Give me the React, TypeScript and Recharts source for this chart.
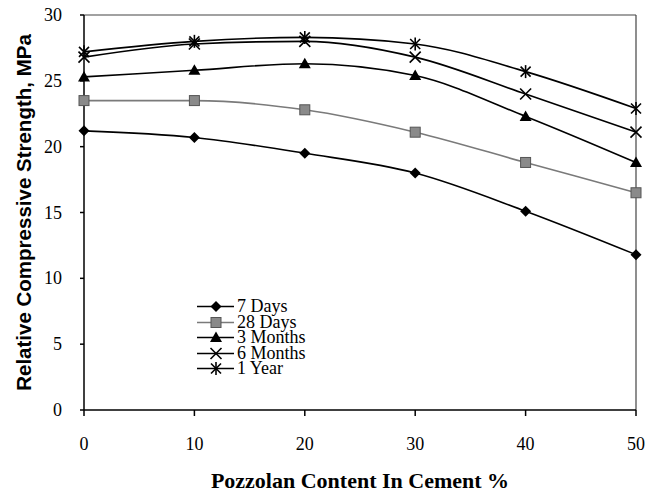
import React from 'react';
import { LineChart, Line, XAxis, YAxis, ReferenceLine, Label } from 'recharts';

const pozzolan = [0, 10, 20, 30, 40, 50];
const days7 = [21.2, 20.7, 19.5, 18.0, 15.1, 11.8];
const days28 = [23.5, 23.5, 22.8, 21.1, 18.8, 16.5];
const months3 = [25.3, 25.8, 26.3, 25.4, 22.3, 18.8];
const months6 = [26.8, 27.8, 28.0, 26.8, 24.0, 21.1];
const year1 = [27.2, 28.0, 28.3, 27.8, 25.7, 22.9];

const xTicks = [0, 10, 20, 30, 40, 50];
const yTicks = [0, 5, 10, 15, 20, 25, 30];

type Shape = 'diamond' | 'square' | 'triangle' | 'cross' | 'star';

const series: { key: string; name: string; values: number[]; color: string; shape: Shape }[] = [
  { key: 'd7', name: '7 Days', values: days7, color: '#000', shape: 'diamond' },
  { key: 'd28', name: '28 Days', values: days28, color: '#7a7a7a', shape: 'square' },
  { key: 'm3', name: '3 Months', values: months3, color: '#000', shape: 'triangle' },
  { key: 'm6', name: '6 Months', values: months6, color: '#000', shape: 'cross' },
  { key: 'y1', name: '1 Year', values: year1, color: '#000', shape: 'star' },
];

const data = pozzolan.map((p, i) => {
  const row: Record<string, number> = { p };
  series.forEach((s) => (row[s.key] = s.values[i]));
  return row;
});

const serif = '"Liberation Serif", "Times New Roman", serif';
const sans = '"Liberation Sans", Arial, sans-serif';

function Marker({ cx, cy, shape }: { cx: number; cy: number; shape: Shape }) {
  switch (shape) {
    case 'diamond':
      return <polygon points={`${cx},${cy - 5.5} ${cx + 5.5},${cy} ${cx},${cy + 5.5} ${cx - 5.5},${cy}`} fill="#000" />;
    case 'square':
      return <rect x={cx - 5} y={cy - 5} width={10} height={10} fill="#8a8a8a" stroke="#555" strokeWidth={1} />;
    case 'triangle':
      return <polygon points={`${cx},${cy - 6} ${cx + 6},${cy + 4.5} ${cx - 6},${cy + 4.5}`} fill="#000" />;
    case 'cross':
      return (
        <g stroke="#000" strokeWidth={1.6}>
          <line x1={cx - 5.5} y1={cy - 5.5} x2={cx + 5.5} y2={cy + 5.5} />
          <line x1={cx - 5.5} y1={cy + 5.5} x2={cx + 5.5} y2={cy - 5.5} />
        </g>
      );
    default:
      return (
        <g stroke="#000" strokeWidth={1.6}>
          <line x1={cx - 5} y1={cy - 5} x2={cx + 5} y2={cy + 5} />
          <line x1={cx - 5} y1={cy + 5} x2={cx + 5} y2={cy - 5} />
          <line x1={cx} y1={cy - 6.5} x2={cx} y2={cy + 6.5} />
        </g>
      );
  }
}

function XTick(props: any) {
  const { x, y, payload } = props;
  return (
    <text x={x} y={y + 26} textAnchor="middle" dominantBaseline="central" fill="#000" style={{ fontFamily: serif, fontSize: 18 }}>
      {payload.value}
    </text>
  );
}

function YTick(props: any) {
  const { x, y, payload } = props;
  return (
    <text x={x - 16} y={y} textAnchor="end" dominantBaseline="central" fill="#000" style={{ fontFamily: serif, fontSize: 18 }}>
      {payload.value}
    </text>
  );
}

function ChartLegend() {
  return (
    <div style={{ position: 'absolute', left: 196, top: 299, fontFamily: serif, fontSize: 18, lineHeight: '15.5px' }}>
      {series.map((s) => (
        <div key={s.key} style={{ display: 'flex', alignItems: 'center', height: 15.5 }}>
          <svg width={40} height={15}>
            <line x1={1} y1={7.5} x2={38} y2={7.5} stroke={s.color} strokeWidth={1.6} />
            <Marker cx={20} cy={7.5} shape={s.shape} />
          </svg>
          <span style={{ marginLeft: 1 }}>{s.name}</span>
        </div>
      ))}
    </div>
  );
}

export default function App() {
  return (
    <div style={{ position: 'absolute', left: 0, top: 0, width: 649, height: 495, background: '#fff' }}>
      <LineChart width={649} height={495} data={data} margin={{ top: 15, right: 13, left: 0, bottom: 0 }}>
        <XAxis
          dataKey="p"
          type="number"
          domain={[0, 50]}
          ticks={xTicks}
          height={85}
          stroke="#000"
          strokeWidth={1.5}
          tickSize={6}
          tick={<XTick />}
        >
          <Label
            value="Pozzolan Content In Cement %"
            position="insideBottom"
            offset={7}
            style={{ fontFamily: serif, fontSize: 22, fontWeight: 'bold', fill: '#000' }}
          />
        </XAxis>
        <YAxis
          type="number"
          domain={[0, 30]}
          ticks={yTicks}
          width={84}
          stroke="#000"
          strokeWidth={1.5}
          tickSize={4}
          tick={<YTick />}
        >
          <Label
            content={(props: any) => {
              const vb = props.viewBox || {};
              const cx = 23;
              const cy = vb.y + vb.height / 2;
              return (
                <text
                  x={cx}
                  y={cy}
                  transform={`rotate(-90 ${cx} ${cy})`}
                  textAnchor="middle"
                  dominantBaseline="central"
                  style={{ fontFamily: sans, fontSize: 20.5, fontWeight: 'bold', fill: '#000' }}
                >
                  Relative Compressive Strength, MPa
                </text>
              );
            }}
          />
        </YAxis>
        <ReferenceLine y={30} stroke="#444" strokeWidth={1.2} />
        <ReferenceLine x={50} stroke="#444" strokeWidth={1.2} />
        {series.map((s) => (
          <Line
            key={s.key}
            dataKey={s.key}
            name={s.name}
            type="monotone"
            stroke={s.color}
            strokeWidth={1.6}
            isAnimationActive={false}
            dot={(props: any) => <Marker key={`${s.key}-${props.index}`} cx={props.cx} cy={props.cy} shape={s.shape} />}
            activeDot={false}
          />
        ))}
      </LineChart>
      <ChartLegend />
    </div>
  );
}
